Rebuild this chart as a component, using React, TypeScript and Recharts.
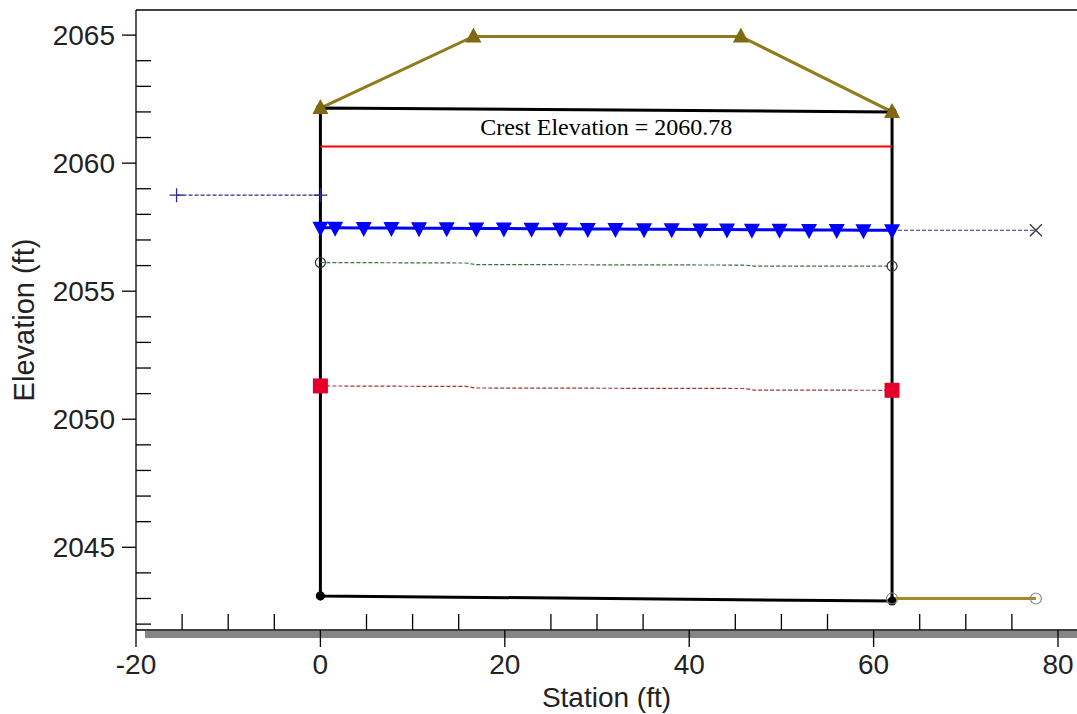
import { LineChart, Line, XAxis, YAxis, ReferenceLine } from 'recharts';

// roadway / weir profile (top of embankment)
const roadTop = [
  { x: 0, y: 2062.15 },
  { x: 16.6, y: 2064.95 },
  { x: 45.6, y: 2064.95 },
  { x: 62, y: 2062.0 },
];

// culvert box outline
const culvertBox = [
  { x: 0, y: 2043.1 },
  { x: 0, y: 2062.15 },
  { x: 62, y: 2062.0 },
  { x: 62, y: 2042.9 },
  { x: 0, y: 2043.1 },
];

const downstreamGround = [
  { x: 62, y: 2043.0 },
  { x: 77.6, y: 2043.0 },
];

const upstreamEGL = [
  { x: -15.6, y: 2058.75 },
  { x: 0, y: 2058.75 },
];

const downstreamWS = [
  { x: 62, y: 2057.38 },
  { x: 77.6, y: 2057.38 },
];

const wsStations = [0, 1.6, 4.7, 7.7, 10.7, 13.7, 16.9, 19.9, 22.9, 26.0, 29.0, 32.0, 35.1, 38.1, 41.2, 44.1, 46.8, 49.8, 53.0, 56.0, 58.9, 62.0];
const wsElev = [2057.48, 2057.48, 2057.47, 2057.47, 2057.46, 2057.46, 2057.45, 2057.45, 2057.44, 2057.44, 2057.43, 2057.43, 2057.42, 2057.42, 2057.41, 2057.41, 2057.40, 2057.40, 2057.39, 2057.39, 2057.38, 2057.38];
const waterSurface = wsStations.map((x, i) => ({ x, y: wsElev[i] }));

const criticalDepth = [
  { x: 0, y: 2056.12 },
  { x: 15.8, y: 2056.1 },
  { x: 16.8, y: 2056.04 },
  { x: 46, y: 2056.02 },
  { x: 47, y: 2055.98 },
  { x: 62, y: 2055.98 },
];

const normalDepth = [
  { x: 0, y: 2051.3 },
  { x: 15.8, y: 2051.28 },
  { x: 16.8, y: 2051.22 },
  { x: 46, y: 2051.2 },
  { x: 47, y: 2051.14 },
  { x: 62, y: 2051.13 },
];

const crestElev = 2060.65;
const crestStart = 0;
const crestEnd = 62;
const crestLabel = 'Crest Elevation = 2060.78';

const xTicks = [-20, -15, -10, -5, 0, 5, 10, 15, 20, 25, 30, 35, 40, 45, 50, 55, 60, 65, 70, 75, 80];
const yTicks = [2042, 2043, 2044, 2045, 2046, 2047, 2048, 2049, 2050, 2051, 2052, 2053, 2054, 2055, 2056, 2057, 2058, 2059, 2060, 2061, 2062, 2063, 2064, 2065];
const xDomain = [-20, 82.06];
const yDomain = [2041.77, 2065.98];

const sans = 'Liberation Sans, Arial, sans-serif';

const XTick = (p: any) => {
  const { x, y, payload } = p;
  const v = payload.value;
  const major = v % 20 === 0;
  return (
    <g>
      {v === -20 && <rect x={x + 9} y={y + 1} width={1077 - x - 9} height={7} fill="#858585" />}
      {major ? (
        <line x1={x} y1={y} x2={x} y2={y + 17} stroke="#000" strokeWidth={1.3} />
      ) : (
        <line x1={x} y1={y} x2={x} y2={y - 16} stroke="#000" strokeWidth={1.3} />
      )}
      {major && (
        <text x={x} y={y + 34} textAnchor="middle" dominantBaseline="central" fontFamily={sans} fontSize={28} fill="#222">
          {v}
        </text>
      )}
    </g>
  );
};

const YTick = (p: any) => {
  const { x, y, payload } = p;
  const v = payload.value;
  if (v % 5 === 0) {
    return (
      <g>
        <line x1={x - 14} y1={y} x2={x} y2={y} stroke="#000" strokeWidth={1.3} />
        <text x={x - 21} y={y} textAnchor="end" dominantBaseline="central" fontFamily={sans} fontSize={28} fill="#222">
          {v}
        </text>
      </g>
    );
  }
  return <line x1={x} y1={y} x2={x + 15} y2={y} stroke="#000" strokeWidth={1.3} />;
};

const triUp = (color: string) => (p: any) => (
  <path key={p.index} d={`M${p.cx},${p.cy - 9}L${p.cx + 8},${p.cy + 6}L${p.cx - 8},${p.cy + 6}Z`} fill={color} />
);
const triDown = (color: string) => (p: any) => (
  <path key={p.index} d={`M${p.cx - 8},${p.cy - 6}L${p.cx + 8},${p.cy - 6}L${p.cx},${p.cy + 9}Z`} fill={color} />
);
const filledDot = (color: string, r: number) => (p: any) => (
  <circle key={p.index} cx={p.cx} cy={p.cy} r={r} fill={color} />
);
const openDot = (color: string, r: number) => (p: any) => (
  <circle key={p.index} cx={p.cx} cy={p.cy} r={r} fill="none" stroke={color} strokeWidth={1.2} />
);
const square = (color: string) => (p: any) => (
  <rect key={p.index} x={p.cx - 7.5} y={p.cy - 7.5} width={15} height={15} fill={color} />
);
const plus = (color: string) => (p: any) => (
  <path key={p.index} d={`M${p.cx - 7},${p.cy}H${p.cx + 7}M${p.cx},${p.cy - 7}V${p.cy + 7}`} stroke={color} strokeWidth={1.3} />
);
const cross = (color: string, onlyLast: boolean) => (p: any) =>
  onlyLast && p.index === 0 ? (
    <g key={p.index} />
  ) : (
    <path key={p.index} d={`M${p.cx - 6},${p.cy - 6}L${p.cx + 6},${p.cy + 6}M${p.cx + 6},${p.cy - 6}L${p.cx - 6},${p.cy + 6}`} stroke={color} strokeWidth={1.3} />
  );

export default function App() {
  return (
    <div style={{ position: 'absolute', left: 0, top: 0, background: '#fff' }}>
      <LineChart width={1077} height={714} margin={{ top: 10, right: 0, bottom: 0, left: 0 }}>
        <XAxis
          type="number"
          dataKey="x"
          domain={xDomain}
          allowDataOverflow
          ticks={xTicks}
          interval={0}
          tick={XTick}
          tickLine={false}
          tickSize={0}
          tickMargin={0}
          height={84}
          axisLine={{ stroke: '#000', strokeWidth: 1.3 }}
          label={{ value: 'Station (ft)', position: 'insideBottom', offset: 7, fontFamily: sans, fontSize: 28, fill: '#222' }}
        />
        <YAxis
          type="number"
          dataKey="y"
          domain={yDomain}
          allowDataOverflow
          ticks={yTicks}
          interval={0}
          tick={YTick}
          tickLine={false}
          tickSize={0}
          tickMargin={0}
          width={136}
          axisLine={{ stroke: '#000', strokeWidth: 1.3 }}
          label={{ value: 'Elevation (ft)', angle: -90, position: 'insideLeft', offset: 24, fontFamily: sans, fontSize: 29, fill: '#222', style: { textAnchor: 'middle' } }}
        />
        <ReferenceLine y={yDomain[1]} stroke="#000" strokeWidth={1.3} />

        <Line data={culvertBox} dataKey="y" stroke="#000" strokeWidth={3} dot={filledDot('#000', 4.5)} isAnimationActive={false} />
        <ReferenceLine
          segment={[{ x: crestStart, y: crestElev }, { x: crestEnd, y: crestElev }]}
          stroke="#ff0000"
          strokeWidth={2}
          label={{ value: crestLabel, position: 'top', offset: 11, fontFamily: 'Liberation Serif, Times New Roman, serif', fontSize: 24, fill: '#000' }}
        />
        <Line data={roadTop} dataKey="y" stroke="#8f7b1c" strokeWidth={3} dot={triUp('#7d6a12')} isAnimationActive={false} />
        <Line data={downstreamGround} dataKey="y" stroke="#a88a22" strokeWidth={3} dot={openDot('#888', 5.5)} isAnimationActive={false} />
        <Line data={upstreamEGL} dataKey="y" stroke="#2b2b8c" strokeWidth={1.2} strokeDasharray="4 2" dot={plus('#2b2b8c')} isAnimationActive={false} />
        <Line data={downstreamWS} dataKey="y" stroke="#2b2b8c" strokeWidth={1.2} strokeDasharray="4 2" dot={cross('#333', true)} isAnimationActive={false} />
        <Line data={criticalDepth} dataKey="y" stroke="#3d6e3d" strokeWidth={1.2} strokeDasharray="4 2" dot={(p: any) => (p.index === 0 || p.index === criticalDepth.length - 1 ? openDot('#333', 5)(p) : <g key={p.index} />)} isAnimationActive={false} />
        <Line data={normalDepth} dataKey="y" stroke="#9a3838" strokeWidth={1.2} strokeDasharray="4 2" dot={(p: any) => (p.index === 0 || p.index === normalDepth.length - 1 ? square('#e4002b')(p) : <g key={p.index} />)} isAnimationActive={false} />
        <Line data={waterSurface} dataKey="y" stroke="#0000ff" strokeWidth={3} dot={triDown('#0000ff')} isAnimationActive={false} />
      </LineChart>
    </div>
  );
}
